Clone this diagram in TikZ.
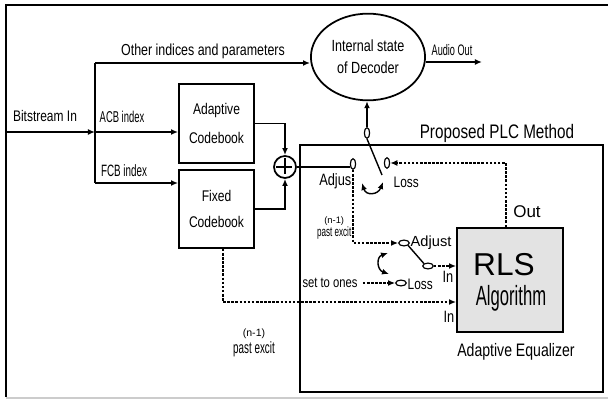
\documentclass[tikz,border=0pt]{standalone}
\usepackage{fontspec}
\setmainfont[FakeStretch=0.78]{Liberation Sans}
\newfontfamily\widefont{Liberation Sans}
\newfontfamily\narrowfont[FakeStretch=0.6]{Liberation Sans}
\usetikzlibrary{arrows.meta,shapes.geometric}

\begin{document}
\begin{tikzpicture}[x=0.03cm,y=-0.03cm,line width=1.2pt,
  >={Latex[length=6pt,width=5pt]},
  block/.style={draw,line width=1.5pt,minimum width=2.25cm,align=center,inner sep=0pt},
  contact/.style={draw,ellipse,line width=1pt,inner sep=0pt,minimum width=4.5pt,minimum height=9pt},
  hcontact/.style={contact,minimum width=9pt,minimum height=5pt},
  sig/.style={dash pattern=on 2.2pt off 1.3pt,line width=1.2pt},
  lbl/.style={inner sep=0pt,font=\fontsize{12.5}{13}\selectfont}]
\useasboundingbox (0,0) rectangle (608,399);

% frame
\draw[line width=2pt] (608,5) -- (6,5) -- (6,397);
\draw[gray!40,line width=1pt] (6,398) -- (608,398);

% decoder blocks
\node[block,minimum height=2.37cm,font=\fontsize{13.2}{24}\selectfont] (acb) at (216.5,123.5) {Adaptive\\Codebook};
\node[block,minimum height=2.34cm,font=\fontsize{13.2}{22}\selectfont] (fcb) at (216.5,209) {Fixed\\Codebook};
\node[draw,circle,line width=1.5pt,minimum size=0.66cm,inner sep=0pt] (add) at (285,167) {};
\draw[line width=2pt] (add.north) ++(0,3) -- ++(0,16) (add.west) ++(3,0) -- ++(16,0);
\node[draw,ellipse,line width=1.5pt,minimum width=3.06cm,minimum height=2.6cm,align=center,
  font=\fontsize{13.8}{18.5}\selectfont] (state) at (368,57) {Internal state\\of Decoder};

% PLC part
\draw[line width=1.5pt] (300,145) rectangle (603,392);
\node[lbl,font=\fontsize{16.7}{18}\selectfont] (plc) at (497,133) {Proposed PLC Method};
\node[draw,fill=gray!22,line width=1.5pt,minimum width=3.18cm,minimum height=3.12cm] (rls) at (510,280) {};
\node[lbl,font=\widefont\fontsize{27}{28}\selectfont] (rlstxt) at (504,265) {RLS};
\node[lbl,font=\narrowfont\fontsize{23.7}{24}\selectfont] (algo) at (511,298) {Algorithm};
\node[lbl,font=\fontsize{15.4}{17}\selectfont] (eq) at (516,352) {Adaptive Equalizer};

% inputs
\coordinate (src) at (6,132);
\coordinate (split) at (95,132);
\coordinate (top) at (95,63);
\coordinate (bot) at (95,183);
\draw[->] (src) -- (split);
\draw (top) -- (bot);
\draw[->] (split) -- (split -| acb.west);
\draw[->] (bot) -- (bot -| fcb.west);
\draw[->] (top) -- (top -| state.west);
\node[lbl,font=\fontsize{13.1}{14}\selectfont] (bits) at (45,116) {Bitstream In};
\node[lbl,font=\narrowfont\fontsize{13.4}{14}\selectfont] (acbidx) at (122,117) {ACB index};
\node[lbl,font=\narrowfont\fontsize{14}{15}\selectfont] (fcbidx) at (124,171) {FCB index};
\node[lbl,font=\fontsize{13.6}{15}\selectfont] (other) at (203,51) {Other indices and parameters};

% adder
\draw[->] (acb.east) -| (add.north);
\draw[->] (fcb.east) -| (add.south);

% output
\coordinate (aout) at (482,62);
\draw[->] (state.east |- aout) -- (aout);
\node[lbl,font=\narrowfont\fontsize{13}{14}\selectfont] (audio) at (452,50) {Audio Out};

% first switch
\node[contact] (sadj) at (353,164) {};
\node[contact] (sloss) at (387,163) {};
\node[contact] (spole) at (367,133) {};
\draw (add.east) -- (add.east -| sadj.west);
\draw[->] (spole.north) -- (spole |- state.south);
\coordinate (arm) at (382,175);
\draw (spole.south) -- (arm);
\coordinate (swa) at (362,183);
\coordinate (swb) at (383,182);
\draw[<->] (swa) .. controls +(4,13) and +(-5,13) .. (swb);
\node[lbl,anchor=east,font=\fontsize{14}{15}\selectfont] (adjus) at (352,181) {Adjus};
\node[lbl,anchor=west,font=\fontsize{13}{14}\selectfont] (loss1) at (393,182) {Loss};

% feedback from equalizer
\coordinate (outtap) at (506,0);
\draw[sig,->] (rls.north -| outtap) |- (sloss.east);
\node[lbl,font=\widefont\fontsize{14.5}{15}\selectfont] (out) at (527,212) {Out};

% second switch
\node[hcontact] (badj) at (404,243) {};
\node[hcontact] (bloss) at (401,283) {};
\node[hcontact] (bpole) at (428,266) {};
\draw[sig,->] (sadj.south) |- (badj.west);
\draw (badj.south east) -- (bpole.north west);
\coordinate (swc) at (388,253);
\coordinate (swd) at (389,274);
\draw[<->] (swc) .. controls +(-12,4) and +(-12,-4) .. (swd);
\node[lbl,anchor=east,align=center,font=\narrowfont\fontsize{11.5}{11}\selectfont] (pasta) at (352,228)
  {{\widefont\fontsize{8}{9}\selectfont(n-1)}\\past excit};
\node[lbl,font=\fontsize{12.3}{13}\selectfont] (ones) at (330,283) {set to ones};
\draw[sig,->,shorten <=4pt] (ones) -- (bloss);
\node[lbl,anchor=west,font=\widefont\fontsize{12.5}{13}\selectfont] (adj2) at (410,243) {Adjust};
\node[lbl,anchor=west,font=\fontsize{13}{14}\selectfont] (loss2) at (407,284) {Loss};
\draw[sig,->] (bpole.east) -- (bpole.east -| rls.west);
\node[lbl,font=\fontsize{14}{15}\selectfont] (in1) at (448,277) {In};

% past excitation into equalizer
\coordinate (ftap) at (223,302);
\draw[sig,->] (fcb.south -| ftap) |- (rls.west |- ftap);
\node[lbl,font=\fontsize{14}{15}\selectfont] (in2) at (449,317) {In};
\node[lbl,align=center,font=\narrowfont\fontsize{14}{15}\selectfont] (pastb) at (254,343)
  {{\widefont\fontsize{9}{9}\selectfont(n-1)}\\past excit};
\end{tikzpicture}
\end{document}
